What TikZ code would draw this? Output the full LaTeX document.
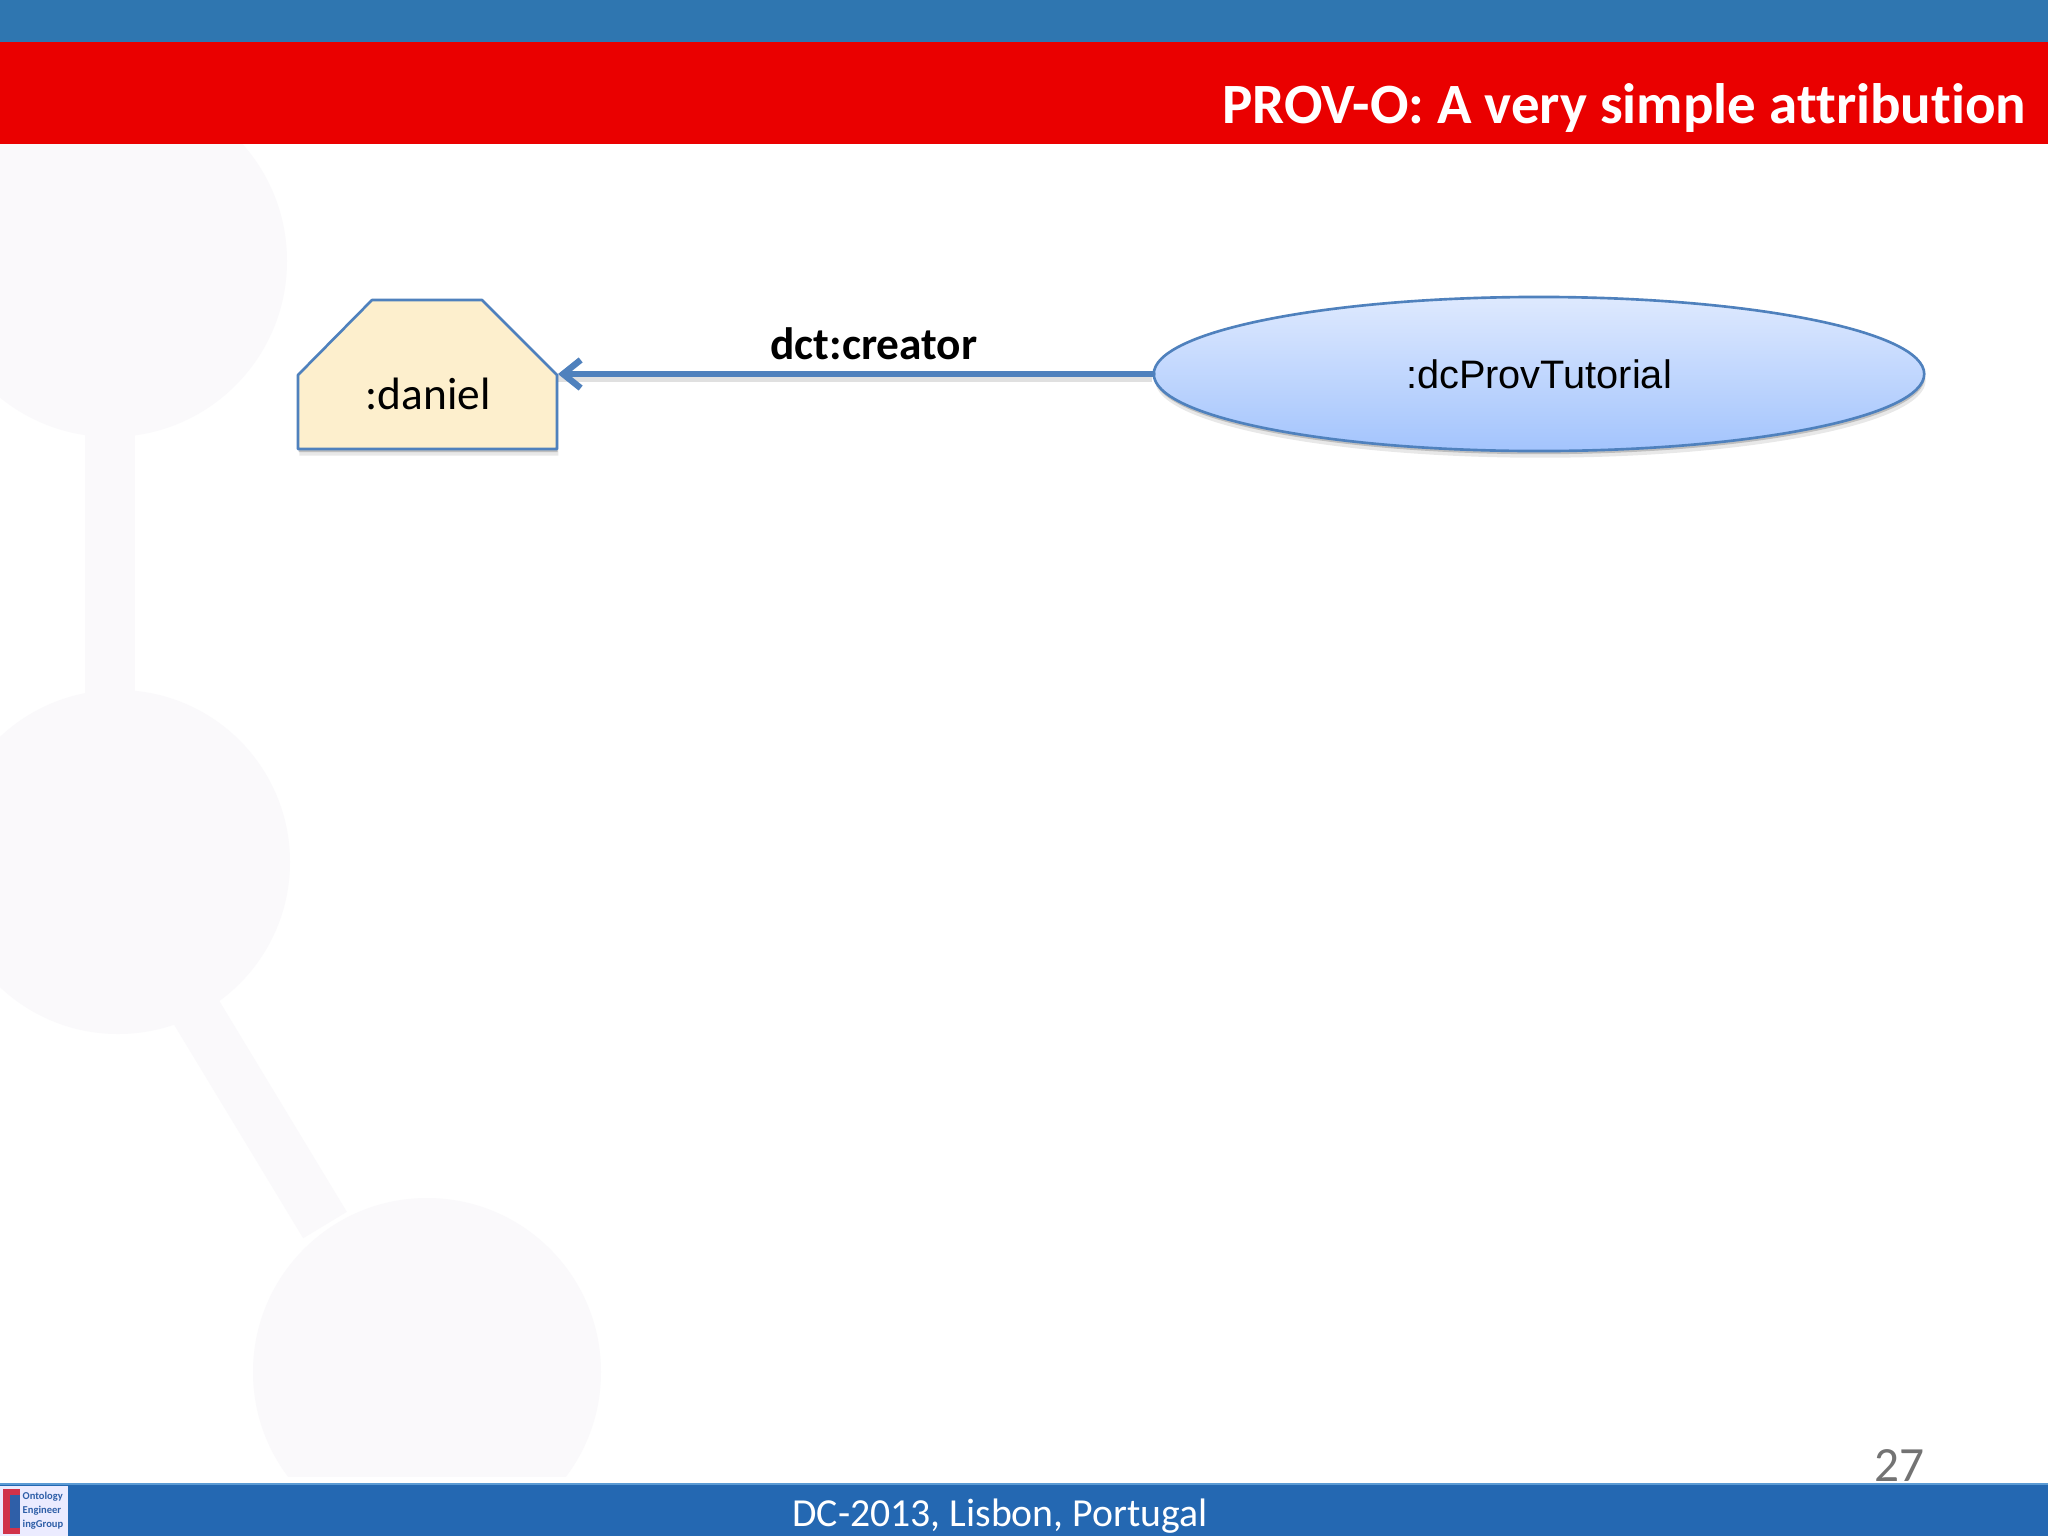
\documentclass[tikz,border=0pt]{standalone}
\usepackage{fontspec}
\setmainfont[RawFeature={-liga}]{Carlito}
\newfontfamily\arialfont{Liberation Sans}
\usepackage{tikz}
\usetikzlibrary{arrows.meta,shapes.geometric,shadows}
\definecolor{topblue}{HTML}{2F76B0}
\definecolor{barred}{HTML}{EA0000}
\definecolor{footblue}{HTML}{2468B2}
\definecolor{footline}{HTML}{5B9BD5}
\definecolor{markgrey}{HTML}{FAF9FB}
\definecolor{edgeblue}{HTML}{4F81BD}
\definecolor{agentfill}{HTML}{FDEFCD}
\definecolor{entitytop}{HTML}{DEE9FE}
\definecolor{entitybot}{HTML}{A3C4FD}
\definecolor{logored}{HTML}{D0324A}
\definecolor{logoblue}{HTML}{2F5FA8}
\tikzset{
  softshadow/.style={
    drop shadow={shadow xshift=0.2pt,shadow yshift=-0.9pt,fill=black,opacity=.18},
    drop shadow={shadow xshift=0.4pt,shadow yshift=-1.9pt,fill=black,opacity=.09}},
  agentbox/.style={draw=edgeblue,line width=0.75pt,fill=agentfill,line join=round,softshadow},
  entity/.style={ellipse,draw=edgeblue,line width=0.75pt,top color=entitytop,bottom color=entitybot,
    minimum width=7.70cm,minimum height=1.54cm,inner sep=0pt,softshadow},
  linelabel/.style={inner sep=0pt,font=\fontsize{12.9}{15}\selectfont\bfseries},
  logotext/.style={inner sep=0pt,anchor=west,text=logoblue,font=\fontsize{3}{3.5}\selectfont\bfseries}
}
\begin{document}
\begin{tikzpicture}[x=0.01cm,y=-0.01cm]
\useasboundingbox (0,0) rectangle (2048,1536);
\fill[white] (0,0) rectangle (2048,1536);
% watermark
\fill[markgrey] (111,261) circle (176);
\fill[markgrey] (85,430) rectangle (135,700);
\fill[markgrey] (118,862) circle (172);
\draw[markgrey,line width=14.5pt] (195,1010) -- (325,1225);
\begin{scope}
\clip (0,1000) rectangle (2048,1476);
\fill[markgrey] (427,1372) circle (174);
\end{scope}
% bars
\fill[topblue] (0,0) rectangle (2048,42);
\fill[barred] (0,42) rectangle (2048,144);
\fill[footblue] (0,1484) rectangle (2048,1536);
\fill[footline] (0,1483) rectangle (2048,1485);
\node[anchor=east,inner sep=0pt,text=white,font=\fontsize{16.2}{20}\selectfont\bfseries] (title) at (2027,108) {PROV-O: A very simple attribution};
\node[inner sep=0pt,text=white,font=\fontsize{11.3}{13}\selectfont] (footer) at (1000,1516) {DC-2013, Lisbon, Portugal};
\node[inner sep=0pt,text=black!55,font=\fontsize{14}{16}\selectfont] (pagenum) at (1899,1466) {27};
% logo
\fill[white!92!blue] (0,1486) rectangle (68,1536);
\fill[logored] (3,1489) rectangle (20,1534);
\fill[logoblue] (10,1495) rectangle (20,1528);
\node[logotext] (logoa) at (22,1497) {Ontology};
\node[logotext] (logob) at (22,1511) {Engineer};
\node[logotext] (logoc) at (22,1525) {ingGroup};
% diagram
\draw[agentbox] (298,449) -- (298,375) -- (372,300) -- (482,300) -- (557,375) -- (557,449) -- cycle;
\node[inner sep=0pt,font=\fontsize{12.9}{15}\selectfont] (daniel) at (428,394) {:daniel};
\coordinate (danieltip) at (558,374);
\node[entity,font=\fontsize{11.3}{13}\selectfont\arialfont] (tutorial) at (1539,374) {:dcProvTutorial};
\draw[black,opacity=.12,line width=1.8pt,transform canvas={yshift=-1.3pt}] (tutorial.west) -- (danieltip);
\draw[-{Straight Barb[length=5pt,width=8pt]},edgeblue,line width=1.8pt,line cap=round] (tutorial.west) -- (danieltip);
\node[linelabel] (creator) at (874,344) {dct:creator};
\end{tikzpicture}
\end{document}
